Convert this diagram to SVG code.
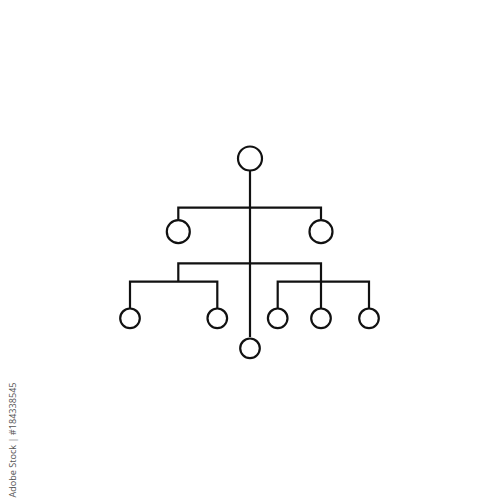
<svg xmlns="http://www.w3.org/2000/svg" width="500" height="500" viewBox="0 0 500 500">
<style>
.ln{fill:none;stroke:#111;stroke-width:2.2;stroke-linecap:butt}
.nd{fill:#fff;stroke:#111;stroke-width:2.2}
.wm{font-family:"Open Sans","Noto Sans",sans-serif;font-size:9.1px;fill:#555}
</style>
<rect width="500" height="500" fill="#fff"/>
<g id="connectors">
<path class="ln" d="M250,171 V337"/>
<path class="ln" d="M178.3,219.5 V207.7 H321 V219.5"/>
<path class="ln" d="M178.3,281.7 V263.3 H321 V308.5"/>
<path class="ln" d="M130,308.5 V281.7 H217.3 V308.5"/>
<path class="ln" d="M277.7,308.5 V281.7 H369 V308.5"/>
</g>
<g id="n-root"><circle class="nd" cx="250" cy="158.5" r="12"/></g>
<g id="n-l1a"><circle class="nd" cx="178.3" cy="231.7" r="11.5"/></g>
<g id="n-l1b"><circle class="nd" cx="321" cy="231.7" r="11.5"/></g>
<g id="n-l2a"><circle class="nd" cx="130" cy="318.3" r="9.8"/></g>
<g id="n-l2b"><circle class="nd" cx="217.3" cy="318.3" r="9.8"/></g>
<g id="n-l2c"><circle class="nd" cx="277.7" cy="318.3" r="9.8"/></g>
<g id="n-l2d"><circle class="nd" cx="321" cy="318.3" r="9.8"/></g>
<g id="n-l2e"><circle class="nd" cx="369" cy="318.3" r="9.8"/></g>
<g id="n-bottom"><circle class="nd" cx="250" cy="348.3" r="9.8"/></g>
<text class="wm" transform="translate(15.5,497.5) rotate(-90)">Adobe Stock | #184338545</text>
</svg>
